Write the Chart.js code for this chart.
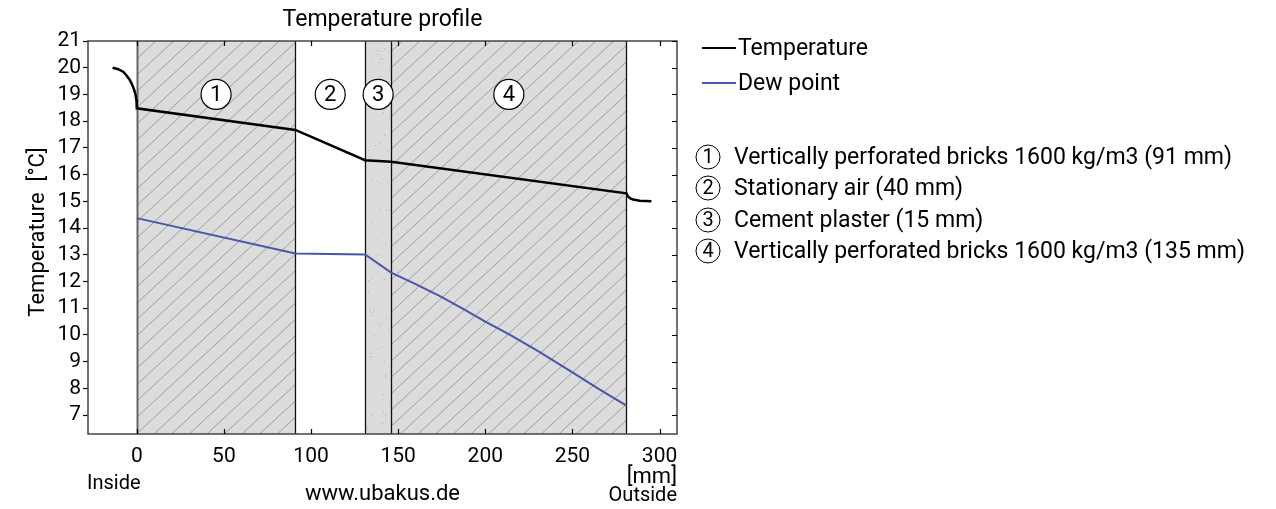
<!DOCTYPE html>
<html><head><meta charset="utf-8">
<script src="https://cdn.jsdelivr.net/npm/chart.js@4/dist/chart.umd.min.js"></script>
<style>html,body{margin:0;padding:0;background:#fff;overflow:hidden}#wrap{width:1276px;height:509px;position:relative}</style>
</head><body><div id="wrap"><canvas id="c" width="1276" height="509"></canvas></div>
<script>
// ---- data ----
const chartTitle = 'Temperature profile';
const yAxisTitle = 'Temperature  [°C]';
const xTicks = [0, 50, 100, 150, 200, 250, 300];
const yTicks = [7, 8, 9, 10, 11, 12, 13, 14, 15, 16, 17, 18, 19, 20, 21];
const tempPositions = [-13.9, -11, -7.8, -6, -4, -2.7, -1.5, -0.7, -0.2, 0, 91, 131, 146, 281, 282, 283.2, 284.8, 288.6, 295.3];
const temperature   = [20.0, 19.95, 19.85, 19.72, 19.54, 19.37, 19.17, 18.98, 18.79, 18.48, 17.67, 16.54, 16.48, 15.30, 15.17, 15.11, 15.07, 15.02, 15.0];
const dewPositions = [0, 91, 131, 146, 160, 174, 187, 200, 215, 231, 250, 265, 281];
const dewPoint     = [14.37, 13.05, 13.01, 12.33, 11.90, 11.45, 10.98, 10.50, 9.97, 9.36, 8.60, 7.98, 7.35];
const layerBounds = [0, 91, 131, 146, 281];
const layerKinds = ['hatch', 'air', 'plaster', 'hatch'];
const layerNames = [
  'Vertically perforated bricks 1600 kg/m3 (91 mm)',
  'Stationary air (40 mm)',
  'Cement plaster (15 mm)',
  'Vertically perforated bricks 1600 kg/m3 (135 mm)'
];
const layerLabelLevel = 19;
const seriesNames = ['Temperature', 'Dew point'];
const seriesColors = ['#000000', '#4a56a8'];

const FONT = 'Roboto';

function toXY(xs, ys) { return xs.map((x, i) => ({ x: x, y: ys[i] })); }

const decor = {
  id: 'decor',
  beforeDatasetsDraw(chart) {
    const ctx = chart.ctx, a = chart.chartArea, xs = chart.scales.x, ys = chart.scales.y;
    ctx.save();
    for (let i = 0; i < layerKinds.length; i++) {
      const x1 = xs.getPixelForValue(layerBounds[i]);
      const x2 = xs.getPixelForValue(layerBounds[i + 1]);
      const kind = layerKinds[i];
      if (kind === 'air') continue;
      ctx.save();
      ctx.beginPath(); ctx.rect(x1, a.top, x2 - x1, a.bottom - a.top); ctx.clip();
      ctx.fillStyle = '#dcdcdc';
      ctx.fillRect(x1, a.top, x2 - x1, a.bottom - a.top);
      if (kind === 'hatch') {
        const H = a.bottom - a.top, sp = 17.6, run = H * 1.08;
        ctx.strokeStyle = '#9c9c9c'; ctx.lineWidth = 1;
        ctx.beginPath();
        for (let x = a.left - run - 20; x < a.right + 20; x += sp) {
          ctx.moveTo(x, a.bottom); ctx.lineTo(x + run, a.top);
        }
        ctx.stroke();
      } else if (kind === 'plaster') {
        ctx.fillStyle = '#b4b4b4';
        const w = x2 - x1, h = a.bottom - a.top;
        for (let k = 0; k < 90; k++) {
          const fx = Math.abs(Math.sin(k * 12.9898) * 43758.5453) % 1;
          const fy = Math.abs(Math.sin(k * 78.233) * 24634.6345) % 1;
          ctx.fillRect(Math.round(x1 + 2 + fx * (w - 4)), Math.round(a.top + fy * h), 1, 1);
        }
      }
      ctx.restore();
    }
    // layer borders
    for (let i = 0; i < layerBounds.length; i++) {
      const x = Math.round(xs.getPixelForValue(layerBounds[i])) + 0.5;
      ctx.strokeStyle = i === 0 ? '#666' : '#111';
      ctx.lineWidth = i === 0 ? 2 : 1.3;
      ctx.beginPath(); ctx.moveTo(x, a.top); ctx.lineTo(x, a.bottom); ctx.stroke();
    }
    // circled numbers
    const cy = ys.getPixelForValue(layerLabelLevel);
    for (let i = 0; i < layerKinds.length; i++) {
      const cx = xs.getPixelForValue((layerBounds[i] + layerBounds[i + 1]) / 2);
      ctx.beginPath(); ctx.arc(cx, cy, 15, 0, Math.PI * 2);
      ctx.fillStyle = '#fff'; ctx.fill();
      ctx.strokeStyle = '#000'; ctx.lineWidth = 1.2; ctx.stroke();
      ctx.fillStyle = '#000'; ctx.font = '22px ' + FONT;
      ctx.textAlign = 'center'; ctx.textBaseline = 'middle';
      ctx.fillText(String(i + 1), cx, cy + 1);
    }
    ctx.restore();
  },
  afterDatasetsDraw(chart) {
    const ctx = chart.ctx, a = chart.chartArea, xs = chart.scales.x, ys = chart.scales.y;
    ctx.save();
    // frame
    ctx.strokeStyle = '#444'; ctx.lineWidth = 1.5;
    ctx.strokeRect(a.left, a.top, a.right - a.left, a.bottom - a.top);
    // inward ticks top/bottom/right
    ctx.strokeStyle = '#000'; ctx.lineWidth = 1.2;
    ctx.beginPath();
    xTicks.forEach(v => {
      const x = Math.round(xs.getPixelForValue(v)) + 0.5;
      ctx.moveTo(x, a.top); ctx.lineTo(x, a.top + 5);
      ctx.moveTo(x, a.bottom); ctx.lineTo(x, a.bottom - 5);
    });
    yTicks.forEach(v => {
      const y = Math.round(ys.getPixelForValue(v)) + 0.5;
      ctx.moveTo(a.right, y); ctx.lineTo(a.right - 5, y);
    });
    ctx.stroke();
    // texts
    ctx.fillStyle = '#000'; ctx.textBaseline = 'middle';
    ctx.font = '23px ' + FONT; ctx.textAlign = 'center';
    ctx.fillText(chartTitle, (a.left + a.right) / 2, 20);
    ctx.save();
    ctx.font = '22px ' + FONT;
    ctx.translate(38, 232);
    ctx.rotate(-Math.PI / 2);
    ctx.fillText(yAxisTitle, 0, 0);
    ctx.restore();
    ctx.font = '20px ' + FONT;
    ctx.textAlign = 'left';
    ctx.fillText('Inside', a.left - 1, 484);
    ctx.textAlign = 'center';
    ctx.font = '22px ' + FONT;
    ctx.fillText('www.ubakus.de', (a.left + a.right) / 2, 494);
    ctx.textAlign = 'right';
    ctx.font = '22px ' + FONT;
    ctx.fillText('[mm]', a.right, 477);
    ctx.font = '20px ' + FONT;
    ctx.fillText('Outside', a.right, 496);
    // legend
    ctx.textAlign = 'left';
    ctx.font = '23px ' + FONT;
    const legY = [48, 83];
    chart.data.datasets.forEach((ds, i) => {
      ctx.strokeStyle = ds.borderColor; ctx.lineWidth = 2;
      ctx.beginPath(); ctx.moveTo(702, legY[i]); ctx.lineTo(736, legY[i]); ctx.stroke();
      ctx.fillStyle = '#000';
      ctx.fillText(ds.label, 738, legY[i] + 1);
    });
    const lay = [157, 188, 220, 251];
    layerNames.forEach((n, i) => {
      ctx.beginPath(); ctx.arc(708, lay[i], 12, 0, Math.PI * 2);
      ctx.strokeStyle = '#000'; ctx.lineWidth = 1; ctx.stroke();
      ctx.textAlign = 'center'; ctx.font = '20px ' + FONT;
      ctx.fillText(String(i + 1), 708, lay[i] + 1);
      ctx.textAlign = 'left'; ctx.font = '23px ' + FONT;
      ctx.fillText(n, 734, lay[i] + 1);
    });
    ctx.restore();
  }
};

new Chart(document.getElementById('c'), {
  type: 'scatter',
  data: {
    datasets: [
      { label: seriesNames[0], data: toXY(tempPositions, temperature), showLine: true, borderColor: seriesColors[0], backgroundColor: seriesColors[0], borderWidth: 2.5, pointRadius: 0, tension: 0 },
      { label: seriesNames[1], data: toXY(dewPositions, dewPoint), showLine: true, borderColor: seriesColors[1], backgroundColor: seriesColors[1], borderWidth: 2, pointRadius: 0, tension: 0 }
    ]
  },
  options: {
    responsive: false, animation: false, devicePixelRatio: 1,
    layout: { padding: { left: 0, right: 599, top: 41, bottom: 0 } },
    plugins: { legend: { display: false }, title: { display: false }, tooltip: { enabled: false } },
    scales: {
      x: {
        type: 'linear', min: -28, max: 310,
        afterBuildTicks: s => { s.ticks = xTicks.map(v => ({ value: v })); },
        afterFit: s => { s.height = 75; },
        grid: { display: false, drawTicks: false }, border: { display: false },
        ticks: { font: { family: FONT, size: 21 }, color: '#000', padding: 10, maxRotation: 0, autoSkip: false }
      },
      y: {
        type: 'linear', min: 6.29, max: 21,
        afterBuildTicks: s => { s.ticks = yTicks.map(v => ({ value: v })); },
        afterFit: s => { s.width = 88; },
        grid: { drawOnChartArea: false, tickLength: 5, color: '#000', tickWidth: 1.2 }, border: { display: false },
        ticks: { font: { family: FONT, size: 21 }, color: '#000', padding: 2, autoSkip: false }
      }
    }
  },
  plugins: [decor]
});
</script></body></html>
